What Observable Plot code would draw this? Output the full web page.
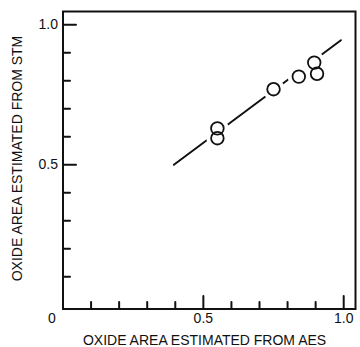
<!DOCTYPE html>
<html><head><meta charset="utf-8">
<script src="https://cdn.jsdelivr.net/npm/d3@7"></script>
<script src="https://cdn.jsdelivr.net/npm/@observablehq/plot@0.6"></script>
<style>body{margin:0;background:#fff} svg{display:block}</style>
</head><body><div id="chart"></div>
<script>
const aes = [0.55, 0.55, 0.75, 0.84, 0.895, 0.905];
const stm = [0.63, 0.595, 0.77, 0.815, 0.865, 0.825];
const fitX = [0.395, 0.99];
const fitY = [0.5, 0.945];
const minorTicks = [0.1, 0.2, 0.3, 0.4, 0.6, 0.7, 0.8, 0.9];
const majorTicks = [0.5, 1.0];
const xLabel = "OXIDE AREA ESTIMATED FROM AES";
const yLabel = "OXIDE AREA ESTIMATED FROM STM";
const originLabel = "0";

const points = aes.map((x, i) => ({x, y: stm[i]}));
const fit = fitX.map((x, i) => ({x, y: fitY[i]}));
const stick = {draw(ctx, l) { ctx.moveTo(0, 0); ctx.lineTo(0, -l); }};
const font = "'Liberation Sans', Arial, sans-serif";
const ink = "#111";
const yMin = -0.015;

const chart = Plot.plot({
  width: 360, height: 347,
  marginLeft: 62.5, marginRight: 5, marginTop: 11, marginBottom: 38.5,
  style: {fontFamily: font, background: "white", color: ink},
  x: {domain: [0, 1.042]},
  y: {domain: [yMin, 1.0475]},
  marks: [
    Plot.axisY(majorTicks, {tickSize: 0, tickPadding: 5, tickFormat: d3.format(".1f"), fontSize: 14, label: null}),
    Plot.axisX(majorTicks, {tickSize: 0, tickPadding: 4, tickFormat: d3.format(".1f"), fontSize: 14, label: null}),
    Plot.text([originLabel], {frameAnchor: "bottom-left", text: d => d, textAnchor: "middle", lineAnchor: "middle", dx: -11, dy: 9.5, fontSize: 14, fill: ink}),
    Plot.text([yLabel], {frameAnchor: "left", text: d => d, textAnchor: "middle", lineAnchor: "middle", rotate: -90, dx: -45.5, dy: -1.75, fontSize: 14, fill: ink}),
    Plot.text([xLabel], {frameAnchor: "bottom", text: d => d, textAnchor: "middle", lineAnchor: "middle", dx: -4.7, dy: 31.5, fontSize: 14, fill: ink}),
    Plot.vector(minorTicks, {x: () => 0, y: d => d, length: 7, rotate: 90, anchor: "start", shape: stick, stroke: ink, strokeWidth: 2}),
    Plot.vector(majorTicks, {x: () => 0, y: d => d, length: 13, rotate: 90, anchor: "start", shape: stick, stroke: ink, strokeWidth: 2}),
    Plot.vector(minorTicks, {x: d => d, y: () => yMin, length: 7, rotate: 0, anchor: "start", shape: stick, stroke: ink, strokeWidth: 2}),
    Plot.vector(majorTicks, {x: d => d, y: () => yMin, length: 13, rotate: 0, anchor: "start", shape: stick, stroke: ink, strokeWidth: 2}),
    Plot.frame({stroke: ink, strokeWidth: 2}),
    Plot.line(fit, {x: "x", y: "y", stroke: ink, strokeWidth: 2}),
    Plot.dot(points, {x: "x", y: "y", r: 11, fill: "white", stroke: null}),
    Plot.dot(points, {x: "x", y: "y", r: 6.3, fill: "none", stroke: ink, strokeWidth: 1.8})
  ]
});
document.getElementById("chart").append(chart);
</script>
</body></html>
